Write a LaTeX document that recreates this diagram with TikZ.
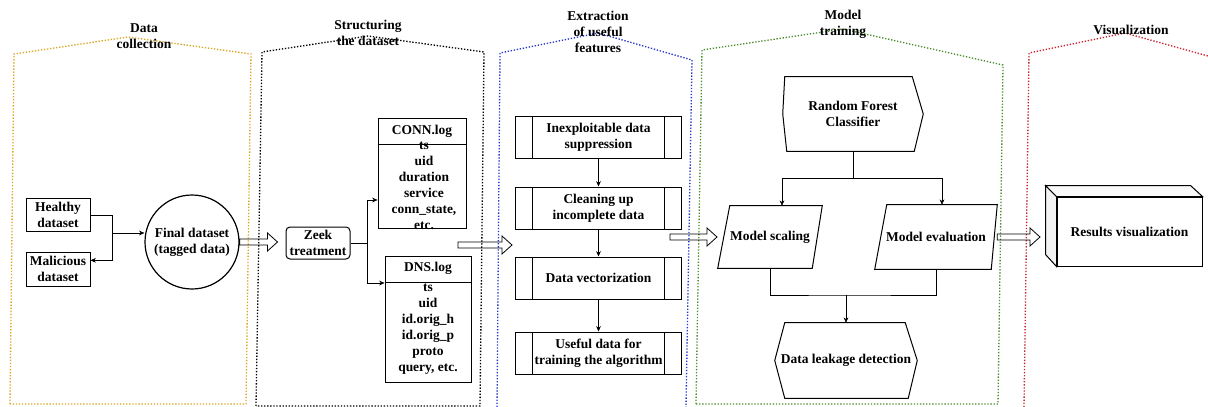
\documentclass[tikz,border=0pt]{standalone}
\usepackage{fontspec}
\setmainfont{Liberation Serif}
\usepackage{tikz}
\usetikzlibrary{positioning}
\usetikzlibrary{arrows.meta,calc}
\usetikzlibrary{shapes.geometric}
\definecolor{collectcol}{RGB}{218,165,32}
\definecolor{extractcol}{RGB}{35,55,205}
\definecolor{traincol}{RGB}{75,140,45}
\definecolor{viscol}{RGB}{200,35,45}
\tikzset{
    every picture/.style={>={Stealth[length=4pt,width=3.5pt]},auto,node distance=21pt},
}
% wide hollow arrow between two phases
\newcommand{\hollowarrow}[2]{%
  \coordinate (ha) at (#1);
  \coordinate (hb) at (#1 -| #2);
  \draw[line width=0.6pt] ($(ha)+(0,-3)$) -- ($(hb)+(-10,-3)$) -- ($(hb)+(-10,-9)$) -- (hb)
    -- ($(hb)+(-10,9)$) -- ($(hb)+(-10,3)$) -- ($(ha)+(0,3)$) -- cycle;
}

\begin{document}
\begin{tikzpicture}[x=0.75pt,y=-0.75pt,
  font=\bfseries\fontsize{10.1}{12}\selectfont,
  every node/.style={align=center},
  phase/.style={line width=1pt,dash pattern=on 1pt off 1.3pt},
  plain/.style={draw,line width=0.75pt,minimum width=48pt,minimum height=25pt,inner sep=1pt},
  procbox/.style={draw,line width=0.75pt,minimum width=125pt,minimum height=31.5pt,inner sep=1pt,
    path picture={\draw ([xshift=12.75pt]path picture bounding box.north west) -- ([xshift=12.75pt]path picture bounding box.south west)
      ([xshift=-12.75pt]path picture bounding box.north east) -- ([xshift=-12.75pt]path picture bounding box.south east);}}]
\useasboundingbox (0,0) rectangle (1208,407);

% phases
\draw[phase,collectcol] (10,404) -- (14,54) -- (128,37) -- (251,54) -- (246,404) -- cycle;
\draw[phase,black] (256,406) -- (262,52) -- (368,36) -- (484,52) -- (480,406) -- cycle;
\draw[phase,extractcol] (497,407) -- (500,53) -- (598,33) -- (692,60) -- (686,407);
\draw[phase,traincol] (696,404) -- (702,50) -- (843,29) -- (1003,65) -- (998,404) -- cycle;
\draw[phase,viscol] (1024,407) -- (1029,53) -- (1125,33) -- (1208,56);

\node (tcollect) at (144,36) {Data\\collection};
\node (tstruct) at (368,33) {Structuring\\the dataset};
\node (textract) at (598,32) {Extraction\\of useful\\features};
\node (ttrain) at (843,24.5) {Model\\training};
\node (tvis) at (1131,30) {Visualization};

% data collection
\node[plain] (healthy) at (58,215) {Healthy\\dataset};
\node[plain,below=15pt of healthy] (malicious) {Malicious\\dataset};
\node[draw,circle,line width=0.9pt,minimum size=70.5pt,inner sep=0pt] (final) at (192,242) {Final dataset\\(tagged data)};
\coordinate (join) at (112,233);
\coordinate (malin) at ($(malicious.east)+(0,-9)$);
\draw (healthy.east) -| (join);
\draw[->] (join) |- (malin);
\draw[->] (join) -- (final.west |- join);

% structuring
\node[draw,rounded corners=3pt,line width=0.75pt,minimum width=48pt,minimum height=24pt,inner sep=1pt] (zeek) at (318,243) {Zeek\\treatment};
\coordinate (zeektip) at ($(zeek.west)+(-8,0)$);
\hollowarrow{final.east}{zeektip}

\node[draw,line width=0.75pt,minimum width=66pt,minimum height=82.5pt] (conn) at (422,173) {};
\draw[line width=0.75pt] (conn.north west) ++(0,27) -- ++(88,0);
\node (connhead) at (422,131) {CONN.log};
\node[inner sep=0pt] (connfields) at (424,186) {ts\\uid\\duration\\service\\conn\_state,\\etc.};

\node[draw,line width=0.75pt,minimum width=64.5pt,minimum height=94.5pt] (dns) at (428,319) {};
\draw[line width=0.75pt] (dns.north west) ++(0,27) -- ++(86,0);
\node (dnshead) at (428,268) {DNS.log};
\node[inner sep=0pt] (dnsfields) at (428,329) {ts\\uid\\id.orig\_h\\id.orig\_p\\proto\\query, etc.};

\coordinate (fork) at (367,243);
\coordinate (connin) at ($(conn.west)+(0,27)$);
\coordinate (dnsin) at ($(dns.west)+(0,-36)$);
\draw (zeek.east) -- (fork);
\draw[->] (fork) |- (connin);
\draw[->] (fork) |- (dnsin);

\coordinate (structout) at (458,245);
\coordinate (extractin) at (512,245);
\hollowarrow{structout}{extractin}

% extraction
\node[procbox] (inexp) at (598.5,137) {Inexploitable data\\suppression};
\node[procbox,below=21pt of inexp] (cleanup) {Cleaning up\\incomplete data};
\node[procbox,below=20.25pt of cleanup] (vector) {Data vectorization};
\node[procbox,below=24pt of vector] (useful) {Useful data for\\training the algorithm};
\draw[->] (inexp) -- (cleanup);
\draw[->] (cleanup) -- (vector);
\draw[->] (vector) -- (useful);

\coordinate (extractout) at (670,237);
\coordinate (trainin) at (717,237);
\hollowarrow{extractout}{trainin}

% model training
\node[minimum width=105pt,minimum height=55.5pt] (forest) at (853,114) {Random Forest\\Classifier};
\draw[line width=0.75pt] ([xshift=1.5pt]forest.north west) -- ([xshift=-8.25pt]forest.north east) -- (forest.east)
  -- ([xshift=-6.75pt]forest.south east) -- ([xshift=3pt]forest.south west) -- (forest.west) -- cycle;
\node[minimum width=78pt,minimum height=46.5pt,inner sep=1pt] (scaling) at (770,237) {Model scaling};
\draw[line width=0.75pt] ([xshift=9pt]scaling.north west) -- (scaling.north east)
  -- ([xshift=-7.5pt]scaling.south east) -- (scaling.south west) -- cycle;
\node[minimum width=91.5pt,minimum height=48pt,inner sep=1pt] (evaluation) at (936,237) {Model evaluation};
\draw[line width=0.75pt] ([xshift=9pt]evaluation.north west) -- (evaluation.north east)
  -- ([xshift=-4.5pt]evaluation.south east) -- (evaluation.south west) -- cycle;
\coordinate (fork2) at (853,178);
\draw (forest.south) -- (fork2);
\draw[->] (fork2) -| ([xshift=9pt]scaling.north);
\draw[->] (fork2) -| ([xshift=4.5pt]evaluation.north);

\node[minimum width=106.5pt,minimum height=56.25pt] (leak) at (846,360.5) {Data leakage detection};
\draw[line width=0.75pt] ([xshift=7.5pt]leak.north west) -- ([xshift=-9pt]leak.north east) -- (leak.east)
  -- ([xshift=-6.75pt]leak.south east) -- ([xshift=7.5pt]leak.south west) -- (leak.west) -- cycle;
\coordinate (merge) at (846,295);
\draw (scaling.south) |- (merge) -| (evaluation.south);
\draw[->] (merge) -- (leak.north);

\coordinate (vistip) at (1040,237);
\hollowarrow{evaluation.east}{vistip}

% visualization
\node[draw,line width=0.75pt,minimum width=108.75pt,minimum height=51.75pt] (results) at (1129.5,231.5) {Results visualization};
\draw[line width=0.75pt,fill=gray!10] (results.north west) -- ++(-11,-11) -- ++(0,69) -- (results.south west) -- cycle;
\draw[line width=0.75pt,fill=gray!5] (results.north west) -- ++(-11,-11) -- ++(145,0) -- (results.north east) -- cycle;
\end{tikzpicture}
\end{document}
